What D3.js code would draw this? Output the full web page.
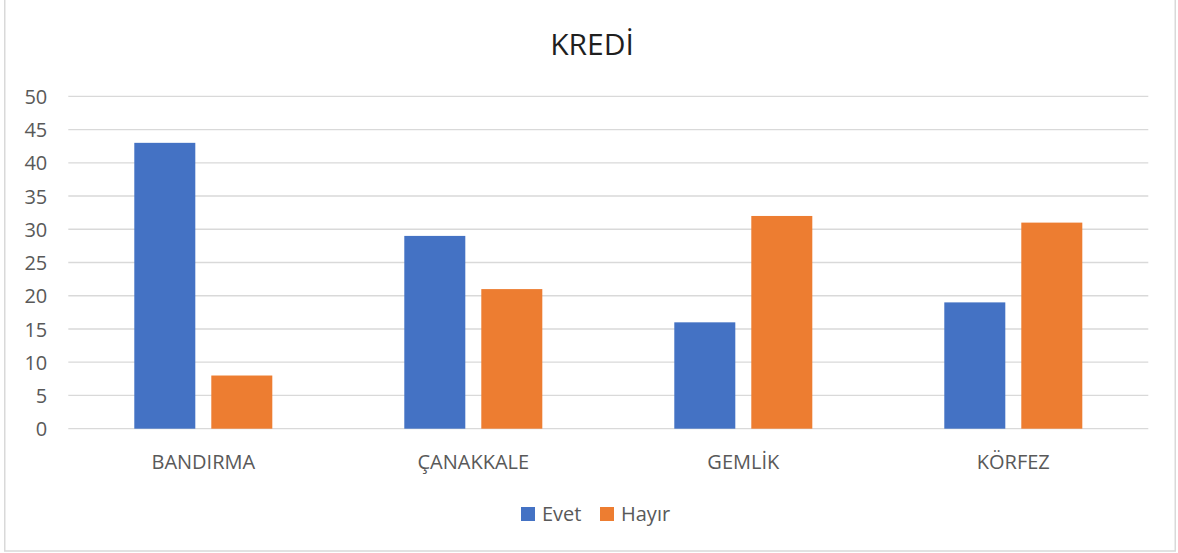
<!DOCTYPE html>
<html><head><meta charset="utf-8">
<script src="https://cdn.jsdelivr.net/npm/d3@7"></script>
<style>html,body{margin:0;padding:0;background:#fff;}svg{display:block;}</style>
</head><body>
<script>
const categories = ["BANDIRMA", "ÇANAKKALE", "GEMLİK", "KÖRFEZ"];
const seriesNames = ["Evet", "Hayır"];
const evet = [43, 29, 16, 19];
const hayir = [8, 21, 32, 31];
const yTicks = [0, 5, 10, 15, 20, 25, 30, 35, 40, 45, 50];
const colors = ["#4472C4", "#ED7D31"];
const chartTitle = "KREDİ";

(function () {
const W = 1178, H = 553;
const pLeft = 68.3, pRight = 1148.3, pTop = 96.3, pBottom = 428.7;
const font = "'Open Sans', 'Noto Sans', sans-serif";

const svg = d3.select("body").append("svg").attr("width", W).attr("height", H);
svg.append("rect").attr("x", 0).attr("y", 0).attr("width", W).attr("height", H).attr("fill", "#fff");
svg.append("rect").attr("x", 4.75).attr("y", -1).attr("width", 1170.5).attr("height", 552)
  .attr("fill", "none").attr("stroke", "#d9d9d9").attr("stroke-width", 1.5);

const y = d3.scaleLinear().domain([0, 50]).range([pBottom, pTop]);
const x0 = d3.scaleBand().domain(categories).range([pLeft, pRight]).padding(0);
const x1 = d3.scaleBand().domain(seriesNames).range([0, x0.bandwidth()])
  .paddingInner(16 / 77).paddingOuter(0.857);

// gridlines
svg.append("g").selectAll("line").data(yTicks).join("line")
  .attr("x1", pLeft).attr("x2", pRight)
  .attr("y1", d => y(d)).attr("y2", d => y(d))
  .attr("stroke", "#d9d9d9").attr("stroke-width", 1.3);

// y axis labels
const yAxis = d3.axisLeft(y).tickValues(yTicks).tickSize(0).tickPadding(0);
const ga = svg.append("g").attr("transform", `translate(${pLeft - 21},0)`).call(yAxis);
ga.select(".domain").remove();
ga.selectAll("text").attr("font-family", font).attr("font-size", 20).attr("fill", "#595959")
  .attr("dy", "0.36em");

// bars
const data = categories.map((c, i) => ({cat: c, vals: [evet[i], hayir[i]]}));
const g = svg.append("g");
data.forEach(d => {
  g.append("g").attr("transform", `translate(${x0(d.cat)},0)`)
    .selectAll("rect").data(d.vals.map((v, j) => ({s: seriesNames[j], v, j}))).join("rect")
    .attr("x", e => x1(e.s)).attr("width", x1.bandwidth())
    .attr("y", e => y(e.v)).attr("height", e => y(0) - y(e.v))
    .attr("fill", e => colors[e.j]);
});

// x axis labels
const xAxis = d3.axisBottom(x0).tickSize(0).tickPadding(0);
const gx = svg.append("g").attr("transform", `translate(0,${pBottom})`).call(xAxis);
gx.select(".domain").remove();
gx.selectAll("text").attr("font-family", font).attr("font-size", 20).attr("fill", "#595959")
  .attr("y", 40.5).attr("dy", 0);

// title
svg.append("text").attr("x", 592).attr("y", 55).attr("text-anchor", "middle")
  .attr("font-family", font).attr("font-size", 30).attr("fill", "#1f1f1f").text(chartTitle);

// legend
const legX = [521, 600];
const leg = svg.append("g");
seriesNames.forEach((s, i) => {
  leg.append("rect").attr("x", legX[i]).attr("y", 507).attr("width", 14).attr("height", 14).attr("fill", colors[i]);
  leg.append("text").attr("x", legX[i] + 21).attr("y", 521).attr("font-family", font)
    .attr("font-size", 20).attr("fill", "#595959").text(s);
});
})();
</script>
</body></html>
